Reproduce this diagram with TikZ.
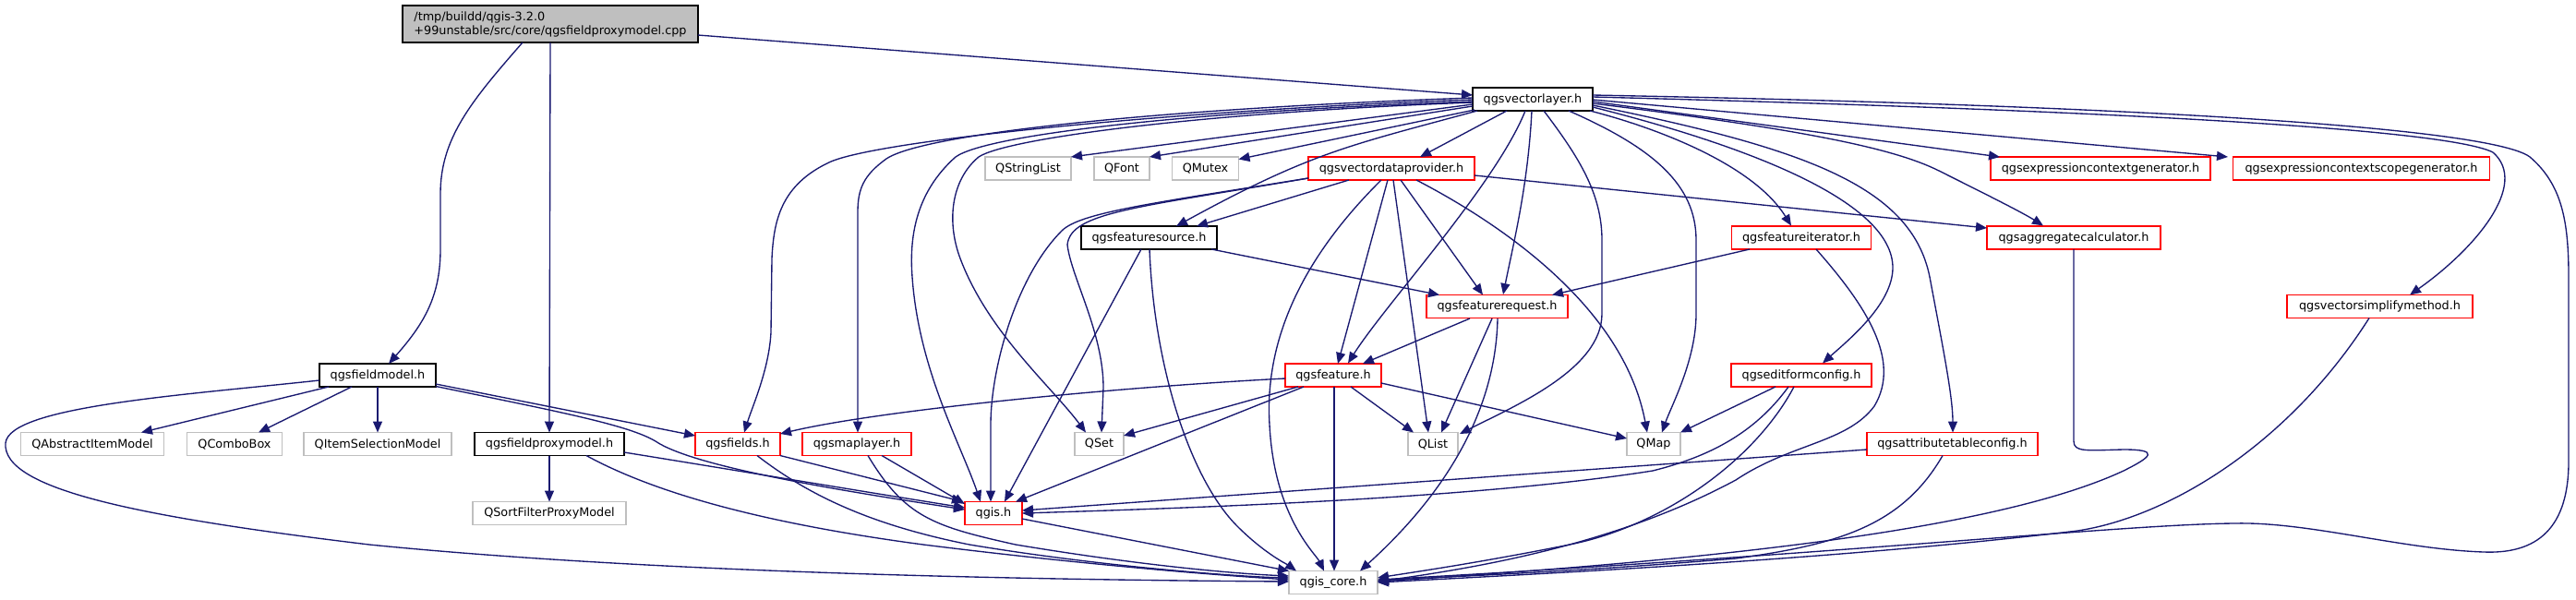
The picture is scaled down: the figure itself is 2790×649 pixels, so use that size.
\documentclass[tikz,border=0pt]{standalone}
\usepackage{fontspec}
\setmainfont{DejaVu Sans}
\usetikzlibrary{arrows.meta,calc}
\definecolor{edgeblue}{HTML}{191970}
\definecolor{greyline}{HTML}{BFBFBF}
\definecolor{redline}{HTML}{FF0000}
\begin{document}
\begin{tikzpicture}[x=1pt,y=-1pt,
  nd/.style={rectangle, inner sep=0pt, minimum height=25pt, font=\fontsize{12.8}{15}\selectfont, line width=1.3pt, fill=white},
  blk/.style={nd, draw=black},
  redn/.style={nd, draw=redline},
  gry/.style={nd, draw=greyline},
  edge/.style={draw=edgeblue, line width=1.35pt, -{Triangle[length=12pt,width=10pt]}}]
\useasboundingbox (0,0) rectangle (2790,649);
% nodes
\node[nd, draw=black, fill=greyline, minimum width=320pt, minimum height=40pt, align=left] (cpp) at (596,26) {/tmp/buildd/qgis-3.2.0\\+99unstable/src/core/qgsfieldproxymodel.cpp};
\node[blk, minimum width=130pt] (vl) at (1660,107.5) {qgsvectorlayer.h};
\node[gry, minimum width=93pt] (qsl) at (1113.5,182.5) {QStringList};
\node[gry, minimum width=60pt] (qfont) at (1215,182.5) {QFont};
\node[gry, minimum width=72pt] (qmutex) at (1305.5,182.5) {QMutex};
\node[redn, minimum width=180pt] (vdp) at (1507,182.5) {qgsvectordataprovider.h};
\node[redn, minimum width=238pt] (ecg) at (2275,182.5) {qgsexpressioncontextgenerator.h};
\node[redn, minimum width=278pt] (ecsg) at (2557.5,182.5) {qgsexpressioncontextscopegenerator.h};
\node[blk, minimum width=147pt] (fsrc) at (1244.5,257.5) {qgsfeaturesource.h};
\node[redn, minimum width=151pt] (fiter) at (1951,257.5) {qgsfeatureiterator.h};
\node[redn, minimum width=188pt] (agg) at (2246,257.5) {qgsaggregatecalculator.h};
\node[redn, minimum width=153pt] (freq) at (1621.5,332) {qgsfeaturerequest.h};
\node[redn, minimum width=201pt] (vsm) at (2577.5,332) {qgsvectorsimplifymethod.h};
\node[blk, minimum width=126pt] (fm) at (409,406.5) {qgsfieldmodel.h};
\node[redn, minimum width=104pt] (feat) at (1444,406.5) {qgsfeature.h};
\node[redn, minimum width=152pt] (efc) at (1951,406.5) {qgseditformconfig.h};
\node[gry, minimum width=155pt] (qaim) at (100,481) {QAbstractItemModel};
\node[gry, minimum width=103pt] (qcb) at (254,481) {QComboBox};
\node[gry, minimum width=160pt] (qism) at (409,481) {QItemSelectionModel};
\node[blk, minimum width=162pt] (fpm) at (595,481) {qgsfieldproxymodel.h};
\node[redn, minimum width=92pt] (fields) at (799,481) {qgsfields.h};
\node[redn, minimum width=118pt] (maplayer) at (928,481) {qgsmaplayer.h};
\node[gry, minimum width=53pt] (qset) at (1190.5,481) {QSet};
\node[gry, minimum width=54pt] (qlist) at (1552,481) {QList};
\node[gry, minimum width=58pt] (qmap) at (1791,481) {QMap};
\node[redn, minimum width=185pt] (atc) at (2114.5,481) {qgsattributetableconfig.h};
\node[gry, minimum width=166pt] (qsfpm) at (595,556) {QSortFilterProxyModel};
\node[redn, minimum width=62pt] (qgis) at (1076,556) {qgis.h};
\node[gry, minimum width=96pt] (core) at (1444,631) {qgis\_core.h};
% edges from cpp
\draw[edge] ($(cpp)+(160,12)$) -- ($(vl)+(-65,-4.5)$);
\draw[edge] ($(cpp)+(-30,20)$) .. controls (510,110) and (477,150) .. (477,210) -- (477,270) .. controls (477,320) and (460,350) .. ($(fm)+(12,-12.5)$);
\draw[edge] ($(cpp)+(0,20)$) -- ($(fpm)+(0,-12.5)$);
% fieldmodel
\draw[edge] ($(fm)+(-53,12.5)$) -- ($(qaim)+(53,-12.5)$);
\draw[edge] ($(fm)+(-28,12.5)$) -- ($(qcb)+(26,-12.5)$);
\draw[edge] ($(fm)+(0,12.5)$) -- ($(qism)+(0,-12.5)$);
\draw[edge] ($(fm)+(63,9.5)$) -- ($(fields)+(-46,-9)$);
\draw[edge] ($(fm)+(63,12)$) .. controls (600,445) and (680,460) .. (710,478) .. controls (750,505) and (900,530) .. ($(qgis)+(-31,-4)$);
\draw[edge] ($(fm)+(-63,5.5)$) .. controls (200,428) and (10,440) .. (6,480) .. controls (2,530) and (150,560) .. (400,590) .. controls (700,620) and (1100,628) .. ($(core)+(-48,-1)$);
% fieldproxymodel
\draw[edge] ($(fpm)+(0,12.5)$) -- ($(qsfpm)+(0,-12.5)$);
\draw[edge] ($(fpm)+(81,9)$) .. controls (800,510) and (950,535) .. ($(qgis)+(-31,-6)$);
\draw[edge] ($(fpm)+(40,12.5)$) .. controls (720,540) and (850,570) .. (1000,590) .. controls (1200,615) and (1350,625) .. ($(core)+(-48,-3)$);
% vectorlayer
\draw[edge] ($(vl)+(-65,5.5)$) -- ($(qsl)+(46.5,-12.5)$);
\draw[edge] ($(vl)+(-65,7.5)$) -- ($(qfont)+(30,-12.5)$);
\draw[edge] ($(vl)+(-63,11.5)$) -- ($(qmutex)+(36,-10)$);
\draw[edge] ($(vl)+(-28,12.5)$) -- ($(vdp)+(31,-12.5)$);
\draw[edge] ($(vl)+(-60,12.5)$) .. controls (1460,158) and (1420,165) .. ($(fsrc)+(29.5,-12.5)$);
\draw[edge] ($(vl)+(-65,0.5)$) .. controls (1300,118) and (960,150) .. (900,175) .. controls (845,200) and (838,240) .. (836,280) -- (835,360) .. controls (833,400) and (815,440) .. ($(fields)+(7,-12.5)$);
\draw[edge] ($(vl)+(-65,-1.5)$) .. controls (1250,118) and (1000,145) .. (960,172) .. controls (935,190) and (929,205) .. (929,230) -- ($(maplayer)+(1,-12.5)$);
\draw[edge] ($(vl)+(-65,2.5)$) .. controls (1300,120) and (1070,145) .. (1035,170) .. controls (990,210) and (985,260) .. (988,300) .. controls (995,400) and (1040,480) .. ($(qgis)+(-14,-12.5)$);
\draw[edge] ($(vl)+(-65,3.5)$) .. controls (1300,122) and (1090,150) .. (1060,170) .. controls (1030,195) and (1025,240) .. (1040,280) .. controls (1070,360) and (1140,420) .. ($(qset)+(-14.5,-12.5)$);
\draw[edge] ($(vl)+(-1,12.5)$) .. controls (1655,200) and (1640,260) .. ($(freq)+(6.5,-13)$);
\draw[edge] ($(vl)+(-8,12.5)$) .. controls (1620,200) and (1500,330) .. ($(feat)+(16,-13)$);
\draw[edge] ($(vl)+(12,12.5)$) .. controls (1710,170) and (1735,210) .. (1735,260) -- (1735,340) .. controls (1735,400) and (1640,440) .. ($(qlist)+(29,-11)$);
\draw[edge] ($(vl)+(39,12.5)$) .. controls (1790,160) and (1837,200) .. (1837,260) -- (1837,340) .. controls (1837,390) and (1810,440) .. ($(qmap)+(9,-12.5)$);
\draw[edge] ($(vl)+(62,12.5)$) .. controls (1800,140) and (1900,180) .. ($(fiter)+(-11,-13)$);
\draw[edge] ($(vl)+(65,8.5)$) .. controls (1900,160) and (2050,220) .. (2050,290) .. controls (2050,330) and (2000,370) .. ($(efc)+(23,-13)$);
\draw[edge] ($(vl)+(65,6.5)$) .. controls (1950,160) and (2070,200) .. (2090,300) .. controls (2105,380) and (2115,430) .. ($(atc)+(0.5,-12.5)$);
\draw[edge] ($(vl)+(65,4.5)$) .. controls (1950,140) and (2050,160) .. (2100,185) .. controls (2150,210) and (2190,230) .. ($(agg)+(-33,-13)$);
\draw[edge] ($(vl)+(65,2.5)$) -- ($(ecg)+(-109,-12.5)$);
\draw[edge] ($(vl)+(65,0.5)$) -- ($(ecsg)+(-144.5,-12.5)$);
\draw[edge] ($(vl)+(65,-2.5)$) .. controls (2300,120) and (2650,140) .. (2700,165) .. controls (2740,200) and (2680,270) .. ($(vsm)+(32.5,-12.5)$);
\draw[edge] ($(vl)+(65,-4.5)$) .. controls (2350,115) and (2700,140) .. (2740,170) .. controls (2775,200) and (2782,240) .. (2782,300) -- (2782,500) .. controls (2782,580) and (2740,600) .. (2690,598) .. controls (2600,595) and (2500,565) .. (2420,567) .. controls (2300,568) and (2000,600) .. ($(core)+(48,-3)$);
% vectordataprovider
\draw[edge] ($(vdp)+(-46,12.5)$) -- ($(fsrc)+(51.5,-12.5)$);
\draw[edge] ($(vdp)+(10,12.5)$) -- ($(freq)+(-15.5,-12.5)$);
\draw[edge] ($(vdp)+(-4,12.5)$) -- ($(feat)+(5,-12.5)$);
\draw[edge] ($(vdp)+(2,12.5)$) -- ($(qlist)+(-5,-12.5)$);
\draw[edge] ($(vdp)+(27,12.5)$) .. controls (1640,250) and (1760,340) .. ($(qmap)+(-7,-12.5)$);
\draw[edge] ($(vdp)+(90,7.5)$) -- ($(agg)+(-94,-10.5)$);
\draw[edge] ($(vdp)+(-90,10.5)$) .. controls (1250,220) and (1170,230) .. (1150,250) .. controls (1100,300) and (1073,400) .. (1073,460) -- ($(qgis)+(-3,-12.5)$);
\draw[edge] ($(vdp)+(-90,10.5)$) .. controls (1230,225) and (1160,230) .. (1156,265) .. controls (1160,300) and (1195,360) .. (1195,420) -- ($(qset)+(2.5,-12.5)$);
\draw[edge] ($(vdp)+(-11,12.5)$) .. controls (1400,290) and (1370,380) .. (1375,460) .. controls (1380,560) and (1425,600) .. ($(core)+(-10,-12.5)$);
% featuresource
\draw[edge] ($(fsrc)+(67.5,12.5)$) -- ($(freq)+(-62.5,-12.5)$);
\draw[edge] ($(fsrc)+(-8.5,12.5)$) -- ($(qgis)+(12,-12.5)$);
\draw[edge] ($(fsrc)+(0.5,12.5)$) .. controls (1250,400) and (1290,520) .. (1340,570) .. controls (1370,600) and (1395,612) .. ($(core)+(-40,-12.5)$);
% featurerequest
\draw[edge] ($(freq)+(-29.5,13)$) -- ($(feat)+(32,-12.5)$);
\draw[edge] ($(freq)+(-5.5,13)$) -- ($(qlist)+(9,-12.5)$);
\draw[edge] ($(freq)+(0.5,13)$) .. controls (1620,450) and (1560,540) .. ($(core)+(29,-12.5)$);
% feature
\draw[edge] ($(feat)+(-52,3.5)$) .. controls (1200,420) and (950,445) .. ($(fields)+(46,-11)$);
\draw[edge] ($(feat)+(-38,12.5)$) -- ($(qset)+(26.5,-9)$);
\draw[edge] ($(feat)+(-32,12.5)$) -- ($(qgis)+(24,-12.5)$);
\draw[edge] ($(feat)+(1,12.5)$) -- ($(core)+(1,-12.5)$);
\draw[edge] ($(feat)+(19,12.5)$) -- ($(qlist)+(-21,-12.5)$);
\draw[edge] ($(feat)+(52,8.5)$) -- ($(qmap)+(-29,-6)$);
% fields, maplayer, qgis
\draw[edge] ($(fields)+(46,12.5)$) -- ($(qgis)+(-33,-12.5)$);
\draw[edge] ($(fields)+(21,12.5)$) .. controls (880,540) and (950,570) .. (1050,590) .. controls (1200,615) and (1350,625) .. ($(core)+(-48,-5)$);
\draw[edge] ($(maplayer)+(27,12.5)$) -- ($(qgis)+(-31,-10)$);
\draw[edge] ($(maplayer)+(12,12.5)$) .. controls (980,560) and (1010,570) .. (1100,590) .. controls (1250,615) and (1350,622) .. ($(core)+(-48,-7)$);
\draw[edge] ($(qgis)+(31,6)$) -- ($(core)+(-48,-12.5)$);
% featureiterator
\draw[edge] ($(fiter)+(-56,12.5)$) -- ($(freq)+(59.5,-12.5)$);
\draw[edge] ($(fiter)+(16,12.5)$) .. controls (2020,330) and (2060,390) .. (2030,440) .. controls (2000,480) and (1940,480) .. (1880,520) .. controls (1750,590) and (1600,615) .. ($(core)+(48,-1)$);
% editformconfig
\draw[edge] ($(efc)+(-28,12.5)$) -- ($(qmap)+(29,-12.5)$);
\draw[edge] ($(efc)+(-14,12.5)$) .. controls (1900,470) and (1850,495) .. (1790,510) .. controls (1600,540) and (1300,550) .. ($(qgis)+(31,0)$);
\draw[edge] ($(efc)+(-8,12.5)$) .. controls (1900,500) and (1800,570) .. (1700,590) .. controls (1600,610) and (1530,620) .. ($(core)+(48,-5)$);
% attributetableconfig
\draw[edge] ($(atc)+(-92.5,6)$) -- ($(qgis)+(31,-3)$);
\draw[edge] ($(atc)+(-10.5,12.5)$) .. controls (2060,570) and (1990,590) .. (1880,605) .. controls (1700,620) and (1560,625) .. ($(core)+(48,-2)$);
% aggregatecalculator
\draw[edge] ($(agg)+(0,12.5)$) -- (2246,478) .. controls (2246,490) and (2260,488) .. (2300,487) .. controls (2340,487) and (2330,495) .. (2300,510) .. controls (2150,580) and (1800,610) .. ($(core)+(48,-1)$);
% vectorsimplifymethod
\draw[edge] ($(vsm)+(-11.5,12.5)$) .. controls (2480,480) and (2350,560) .. (2250,575) .. controls (2000,605) and (1700,620) .. ($(core)+(48,0)$);
\end{tikzpicture}
\end{document}
